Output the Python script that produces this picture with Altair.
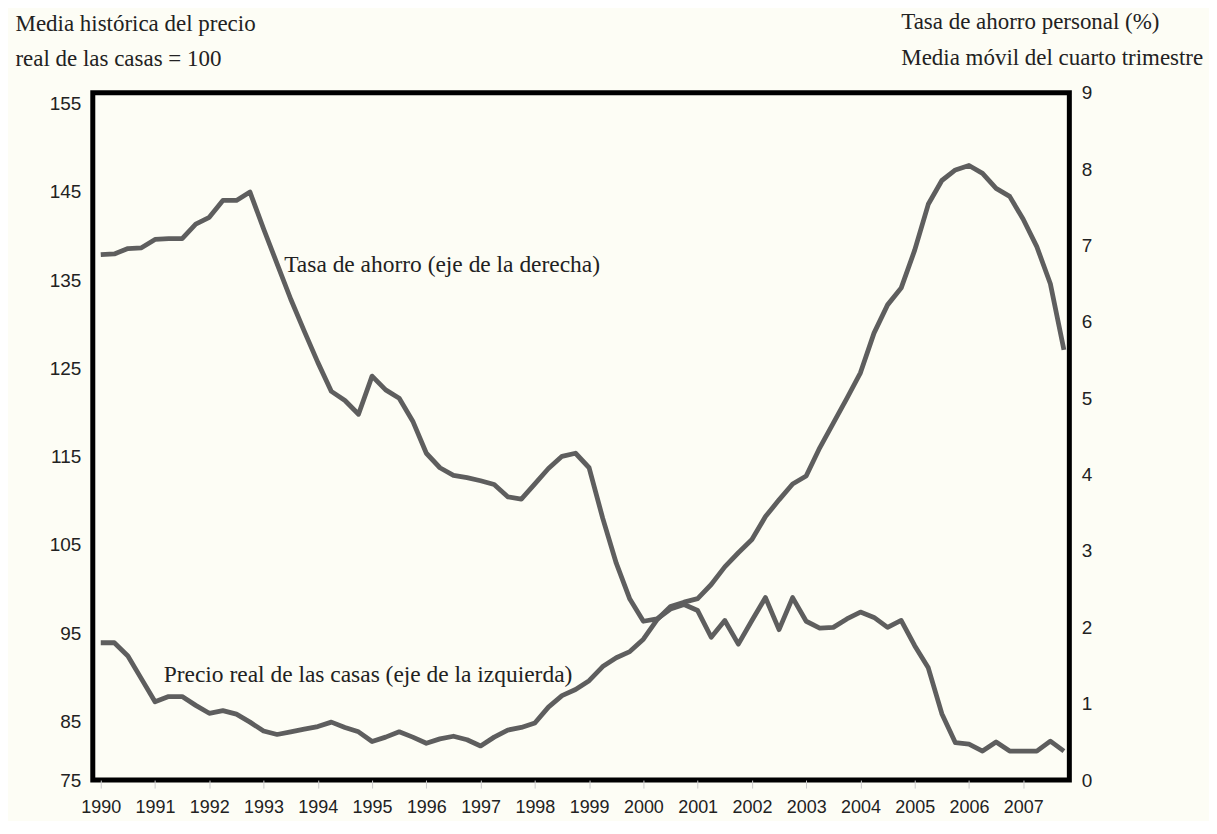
import altair as alt
import pandas as pd

# ---- data (quarterly, starting 1990 Q1) ----
start_year = 1990
house_price = [93.9, 93.9, 92.4, 89.8, 87.2, 87.8, 87.8, 86.8, 85.9, 86.2,
               85.8, 84.9, 83.9, 83.5, 83.8, 84.1, 84.4, 84.9, 84.3, 83.8,
               82.7, 83.2, 83.8, 83.2, 82.5, 83.0, 83.3, 82.9, 82.2, 83.2,
               84.0, 84.3, 84.8, 86.6, 87.9, 88.6, 89.6, 91.2, 92.2, 92.9,
               94.3, 96.5, 98.0, 98.5, 98.9, 100.5, 102.5, 104.1, 105.6, 108.2,
               110.1, 111.9, 112.8, 116.0, 118.8, 121.6, 124.5, 129.0, 132.2, 134.1,
               138.4, 143.6, 146.3, 147.5, 148.0, 147.1, 145.4, 144.5, 141.9, 138.8,
               134.6, 127.1]
saving_rate = [6.88, 6.89, 6.96, 6.97, 7.08, 7.09, 7.09, 7.28, 7.37, 7.59,
               7.59, 7.70, 7.22, 6.76, 6.30, 5.88, 5.47, 5.09, 4.97, 4.79,
               5.29, 5.11, 5.00, 4.70, 4.28, 4.09, 3.99, 3.96, 3.92, 3.87,
               3.71, 3.68, 3.88, 4.08, 4.24, 4.28, 4.09, 3.43, 2.84, 2.37,
               2.08, 2.11, 2.24, 2.30, 2.22, 1.87, 2.09, 1.78, 2.09, 2.39,
               1.97, 2.39, 2.08, 1.99, 2.00, 2.11, 2.20, 2.13, 2.00, 2.09,
               1.76, 1.47, 0.87, 0.49, 0.47, 0.38, 0.50, 0.38, 0.38, 0.38,
               0.51, 0.38]
years = list(range(1990, 2008))
left_tick_labels = [75, 85, 95, 105, 115, 125, 135, 145, 155]
left_domain = [78.33, 156.24]          # printed "75" sits on the bottom frame
right_ticks = [0, 1, 2, 3, 4, 5, 6, 7, 8, 9]

left_title = ["Media histórica del precio", "real de las casas = 100"]
right_title = ["Tasa de ahorro personal (%)", "Media móvil del cuarto trimestre"]
price_label = "Precio real de las casas (eje de la izquierda)"
saving_label = "Tasa de ahorro (eje de la derecha)"
price_label_pos = (1991.16, 90.2)
saving_label_pos = (1993.38, 6.74)

n = len(house_price)
df = pd.DataFrame({
    "t": [start_year + i / 4 for i in range(n)],
    "price": house_price,
    "saving": saving_rate,
})
price_note = pd.DataFrame({"t": [price_label_pos[0]], "price": [price_label_pos[1]], "label": [price_label]})
saving_note = pd.DataFrame({"t": [saving_label_pos[0]], "saving": [saving_label_pos[1]], "label": [saving_label]})

left_tick_values = [max(v, left_domain[0]) for v in left_tick_labels]

SANS = "Liberation Sans Narrow, Liberation Sans, Arial"
SERIF = "Liberation Serif, DejaVu Serif, serif"
LINE = "#5e5e5e"
INK = "#222222"

x_enc = alt.X(
    "t:Q",
    scale=alt.Scale(domain=[1989.853, 2007.85], nice=False, zero=False),
    axis=alt.Axis(values=years, format="d", labelFont=SANS, labelFontSize=18,
                  labelColor=INK, labelPadding=10, ticks=True, tickColor="#cccccc",
                  tickSize=8, tickWidth=1, domain=False, grid=False, title=None,
                  labelFlush=False, labelOverlap=False),
)

axis_left = alt.Axis(
    orient="left", values=left_tick_values,
    labelExpr=f"datum.value < {left_tick_labels[1] - 5} ? '{left_tick_labels[0]}' : datum.label",
    labelFont=SANS, labelFontSize=19, labelColor=INK,
    labelPadding=12, ticks=False, domain=False, grid=False,
    title=left_title, titleAngle=0, titleAlign="left", titleBaseline="alphabetic",
    titleX=-78, titleY=-62, titleFont=SERIF, titleFontSize=23, titleFontWeight="normal",
    titleColor=INK, titleLineHeight=35,
)
axis_right = alt.Axis(
    orient="right", values=right_ticks, labelFont=SANS, labelFontSize=19, labelColor=INK,
    labelPadding=12, ticks=False, domain=False, grid=False,
    title=right_title, titleAngle=0, titleAlign="left", titleBaseline="alphabetic",
    titleX=-169, titleY=-64, titleFont=SERIF, titleFontSize=23, titleFontWeight="normal",
    titleColor=INK, titleLineHeight=36,
)
y_left_scale = alt.Scale(domain=left_domain, nice=False, zero=False)
y_right_scale = alt.Scale(domain=[0, 9], nice=False, zero=False)

price_line = alt.Chart(df).mark_line(color=LINE, strokeWidth=4.8, strokeJoin="round").encode(
    x=x_enc, y=alt.Y("price:Q", scale=y_left_scale, axis=axis_left)
)
price_text = alt.Chart(price_note).mark_text(
    align="left", baseline="middle", font=SERIF, fontSize=23.5, color=INK
).encode(x=x_enc, y=alt.Y("price:Q", scale=y_left_scale, axis=axis_left), text="label:N")

saving_line = alt.Chart(df).mark_line(color=LINE, strokeWidth=4.8, strokeJoin="round").encode(
    x=x_enc, y=alt.Y("saving:Q", scale=y_right_scale, axis=axis_right)
)
saving_text = alt.Chart(saving_note).mark_text(
    align="left", baseline="middle", font=SERIF, fontSize=23.5, color=INK
).encode(x=x_enc, y=alt.Y("saving:Q", scale=y_right_scale, axis=axis_right), text="label:N")

left = alt.layer(price_line, price_text)
right = alt.layer(saving_line, saving_text)

chart = (
    alt.layer(left, right)
    .resolve_scale(y="independent")
    .properties(
        width=979, height=689,
        padding={"left": 85, "top": 84, "right": 140, "bottom": 40},
        autosize=alt.AutoSizeParams(type="none"),
        background="#fdfdf5",
    )
    .configure_view(stroke="black", strokeWidth=5)
)

chart.save("out.html", embed_options={"renderer": "svg", "actions": False})
